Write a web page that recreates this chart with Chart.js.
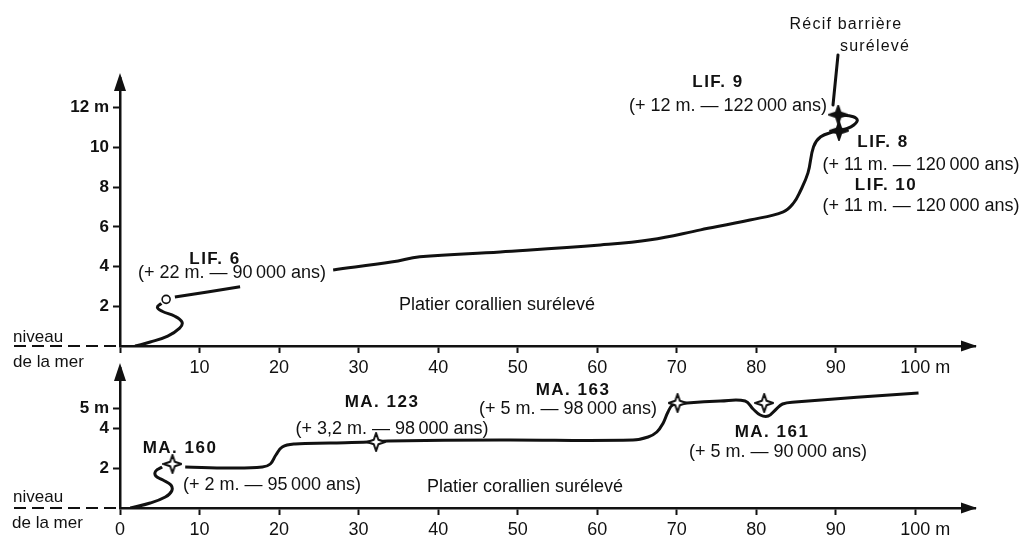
<!DOCTYPE html>
<html>
<head>
<meta charset="utf-8">
<script src="https://cdn.jsdelivr.net/npm/chart.js@4.4.1/dist/chart.umd.min.js"></script>
<style>
  body { margin: 0; background: #fff; }
  #wrap { position: relative; width: 1024px; height: 541px; }
  #wrap canvas { position: absolute; left: 0; top: 0; }
</style>
</head>
<body>
<div id="wrap">
  <canvas id="profilTop" width="1024" height="541"></canvas>
  <canvas id="profilBottom" width="1024" height="541"></canvas>
</div>
<script>
// distances (m) and heights (m); null = break in the line
var topX = [1.9, 3.8, 6.0, 7.5, 7.8, 6.9, 5.3, 4.7, 5.2, null,
  6.9, 15.1, null,
  26.8, 34.3, 37.7, 47.8, 60.4, 66.7, 73.0, 79.2, 83.4, 84.7, 85.5, 86.5, 87.2, 88.1, 89.7, 90.4, 91.9, 92.7, 92.2, 90.3];
var topY = [0, 0.2, 0.5, 0.9, 1.2, 1.5, 1.75, 1.95, 2.15, null,
  2.47, 2.98, null,
  3.83, 4.24, 4.49, 4.74, 5.09, 5.35, 5.85, 6.35, 6.76, 7.21, 7.77, 8.72, 10.04, 10.54, 10.79, 10.84, 11.04, 11.35, 11.55, 11.65];

var topSamples = ['LIF. 6', 'LIF. 9', 'LIF. 8'];
var topSampleX = [5.8, 90.3, 90.4];
var topSampleY = [2.35, 11.65, 10.84];

var botX = [1.3, 3.8, 5.7, 6.5, 6.4, 5.4, 4.5, 4.5, 5.3, null,
  8.2, 13.8, 17.9, 18.9, 19.6, 20.4, 22.0, 26.4, 31.2, 33.7, 47.8, 64.5, 66.4, 67.5, 68.3, 68.9, 69.5,
  71.3, 75.5, 78.6, 79.6, 80.5, 81.5, 82.4, 83.3, 84.9, 100.4];
var botY = [0, 0.25, 0.55, 0.85, 1.15, 1.4, 1.6, 1.85, 2.05, null,
  2.05, 2.0, 2.05, 2.2, 2.65, 3.05, 3.2, 3.25, 3.3, 3.35, 3.4, 3.4, 3.55, 3.8, 4.25, 4.8, 5.15,
  5.25, 5.35, 5.35, 4.95, 4.65, 4.6, 4.9, 5.2, 5.3, 5.75];

var botSamples = ['MA. 160', 'MA. 123', 'MA. 163', 'MA. 161'];
var botSampleX = [6.6, 32.2, 70.1, 81.0];
var botSampleY = [2.2, 3.3, 5.25, 5.25];

var xTicks = [0, 10, 20, 30, 40, 50, 60, 70, 80, 90, 100];
var topYTicks = [2, 4, 6, 8, 10, 12];
var botYTicks = [2, 4, 5];

var INK = '#111';
var FONT = '"Liberation Sans", Arial, sans-serif';
var NB = '\u202F';

// four-point star markers
function starMarker(filled) {
  var c = document.createElement('canvas');
  c.width = 20; c.height = 20;
  var g = c.getContext('2d');
  g.beginPath();
  g.moveTo(10, 1); g.lineTo(12.3, 7.7); g.lineTo(19, 10); g.lineTo(12.3, 12.3);
  g.lineTo(10, 19); g.lineTo(7.7, 12.3); g.lineTo(1, 10); g.lineTo(7.7, 7.7);
  g.closePath();
  g.fillStyle = filled ? INK : '#fff';
  g.fill();
  g.lineWidth = 2; g.lineJoin = 'round';
  g.strokeStyle = INK;
  g.stroke();
  return c;
}
var fullStar = starMarker(true);
var openStar = starMarker(false);

function pts(xs, ys) {
  return xs.map(function (x, i) { return { x: x, y: ys[i] }; });
}

// text, arrows, sea level line
var deco = {
  id: 'deco',
  afterDraw: function (chart, args, opts) {
    var ctx = chart.ctx, a = chart.chartArea;
    ctx.save();
    ctx.fillStyle = INK;
    ctx.strokeStyle = INK;
    // arrow heads
    ctx.beginPath();
    ctx.moveTo(a.right + 2, a.bottom);
    ctx.lineTo(a.right - 14, a.bottom - 5.5);
    ctx.lineTo(a.right - 14, a.bottom + 5.5);
    ctx.closePath(); ctx.fill();
    ctx.beginPath();
    ctx.moveTo(a.left, a.top - 5);
    ctx.lineTo(a.left - 6, a.top + 13);
    ctx.lineTo(a.left + 6, a.top + 13);
    ctx.closePath(); ctx.fill();
    // sea level
    ctx.setLineDash([12, 6]);
    ctx.lineWidth = 2;
    ctx.beginPath();
    ctx.moveTo(14, a.bottom); ctx.lineTo(a.left - 3, a.bottom);
    ctx.stroke();
    ctx.setLineDash([]);
    // pointer
    if (opts.pointer) {
      var p = opts.pointer;
      ctx.lineWidth = 3; ctx.lineCap = 'round';
      ctx.beginPath(); ctx.moveTo(p[0], p[1]); ctx.lineTo(p[2], p[3]); ctx.stroke();
    }
    ctx.textBaseline = 'middle';
    opts.notes.forEach(function (n) {
      var kind = n[3];
      ctx.letterSpacing = '0px';
      if (kind === 'b') { ctx.font = 'bold 17px ' + FONT; ctx.letterSpacing = '1.5px'; }
      else if (kind === 's') { ctx.font = '16px ' + FONT; ctx.letterSpacing = '1.2px'; }
      else if (kind === 'p') ctx.font = '18px ' + FONT;
      else if (kind === 'l') ctx.font = '17px ' + FONT;
      else ctx.font = '18px ' + FONT;
      ctx.textAlign = n[4] || 'center';
      ctx.fillText(n[0], n[1], n[2]);
    });
    ctx.restore();
  }
};

function makeChart(id, xs, ys, names, sx, sy, styles, yMax, yTicks, yTop, pad, zeroLabel, notes, pointer) {
  return new Chart(document.getElementById(id), {
    type: 'scatter',
    data: {
      datasets: [{
        label: 'échantillons',
        data: pts(sx, sy),
        pointStyle: styles,
        pointRadius: 4,
        pointBorderWidth: 1.6,
        pointBorderColor: INK,
        pointBackgroundColor: '#fff'
      }, {
        label: 'profil',
        data: pts(xs, ys),
        showLine: true,
        borderColor: INK,
        borderWidth: 3,
        pointRadius: 0,
        tension: 0.4,
        spanGaps: false,
        fill: false
      }]
    },
    options: {
      responsive: false,
      devicePixelRatio: 1,
      animation: false,
      events: [],
      layout: { padding: pad },
      plugins: {
        legend: { display: false },
        tooltip: { enabled: false },
        deco: { notes: notes, pointer: pointer }
      },
      scales: {
        x: {
          type: 'linear', min: 0, max: 107.5,
          afterBuildTicks: function (s) { s.ticks = xTicks.map(function (v) { return { value: v }; }); },
          afterFit: function (s) { s.height = 30; },
          border: { display: true, color: INK, width: 2.5 },
          grid: { drawOnChartArea: false, drawTicks: true, tickLength: 7, tickColor: INK, tickWidth: 2 },
          ticks: {
            padding: 4, color: INK, maxRotation: 0, autoSkip: false,
            font: { family: FONT, size: 18 },
            callback: function (v) {
              if (v === 0) return zeroLabel;
              if (v === 100) return '    100 m';
              return String(v);
            }
          }
        },
        y: {
          type: 'linear', min: 0, max: yMax,
          afterBuildTicks: function (s) { s.ticks = yTicks.map(function (v) { return { value: v }; }); },
          afterFit: function (s) { s.width = 120; },
          border: { display: true, color: INK, width: 2.5 },
          grid: { drawOnChartArea: false, drawTicks: true, tickLength: 7, tickColor: INK, tickWidth: 2 },
          ticks: {
            padding: 4, color: INK, autoSkip: false,
            font: { family: FONT, size: 17, weight: 'bold' },
            callback: function (v) { return v === yTop ? v + ' m' : String(v); }
          }
        }
      }
    },
    plugins: [deco]
  });
}

makeChart('profilTop', topX, topY, topSamples, topSampleX, topSampleY,
  ['circle', fullStar, fullStar], 13.5, topYTicks, 12,
  { top: 78, right: 49, bottom: 165, left: 0 }, '',
  [
    ['Récif barrière', 846, 25, 's'],
    ['surélevé', 875, 47, 's'],
    ['LIF. 9', 718, 82, 'b'],
    ['(+ 12 m. — 122' + NB + '000 ans)', 728, 106, 'r'],
    ['LIF. 8', 883, 142, 'b'],
    ['(+ 11 m. — 120' + NB + '000 ans)', 921, 165, 'r'],
    ['LIF. 10', 886, 185, 'b'],
    ['(+ 11 m. — 120' + NB + '000 ans)', 921, 206, 'r'],
    ['LIF. 6', 215, 259, 'b'],
    ['(+ 22 m. — 90' + NB + '000 ans)', 232, 273, 'r'],
    ['Platier corallien surélevé', 497, 305, 'p'],
    ['niveau', 13, 337, 'l', 'left'],
    ['de la mer', 13, 362, 'l', 'left']
  ],
  [838, 55, 833, 105]);

makeChart('profilBottom', botX, botY, botSamples, botSampleX, botSampleY,
  [openStar, openStar, openStar, openStar], 7, botYTicks, 5,
  { top: 368, right: 49, bottom: 3, left: 0 }, '0',
  [
    ['MA. 160', 180, 448, 'b'],
    ['(+ 2 m. — 95' + NB + '000 ans)', 272, 485, 'r'],
    ['MA. 123', 382, 402, 'b'],
    ['(+ 3,2 m. — 98' + NB + '000 ans)', 392, 429, 'r'],
    ['MA. 163', 573, 390, 'b'],
    ['(+ 5 m. — 98' + NB + '000 ans)', 568, 409, 'r'],
    ['MA. 161', 772, 432, 'b'],
    ['(+ 5 m. — 90' + NB + '000 ans)', 778, 452, 'r'],
    ['Platier corallien surélevé', 525, 487, 'p'],
    ['niveau', 13, 497, 'l', 'left'],
    ['de la mer', 12, 523, 'l', 'left']
  ],
  null);
</script>
</body>
</html>
